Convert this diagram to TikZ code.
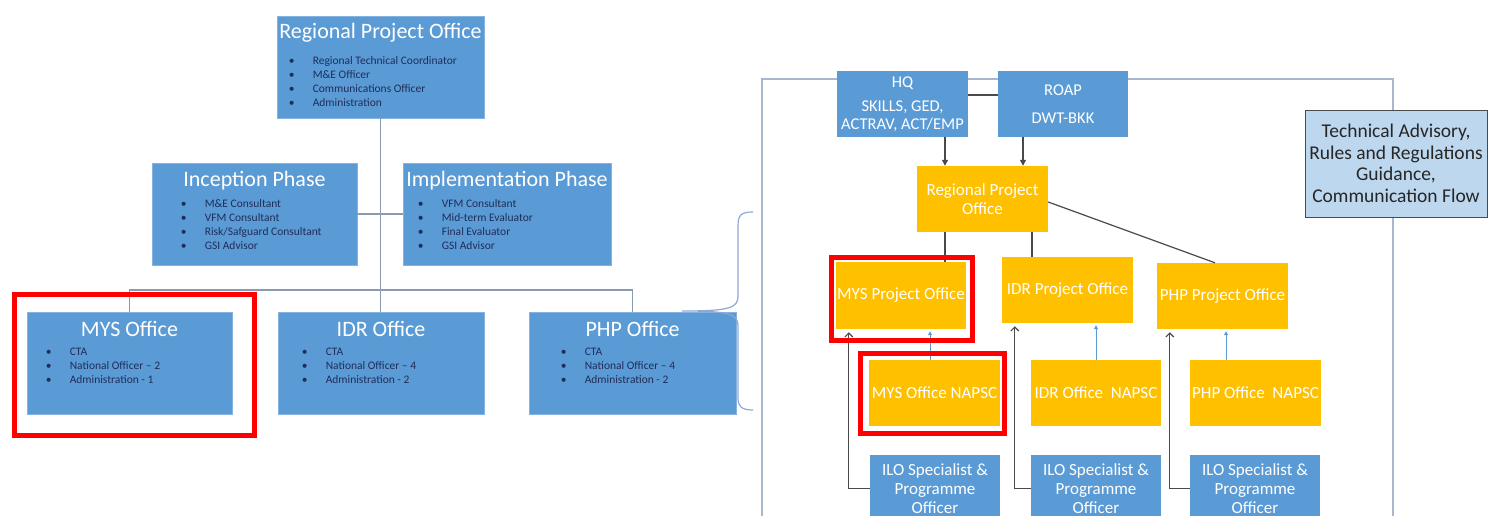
\documentclass[tikz,border=0pt]{standalone}
\usepackage{fontspec}
\setmainfont{Carlito}
\usetikzlibrary{calc,positioning,arrows.meta}
\definecolor{offblue}{HTML}{5B9BD5}
\definecolor{offedge}{HTML}{86B2DF}
\definecolor{navy}{HTML}{1F2D5A}
\definecolor{amber}{HTML}{FFC000}
\definecolor{paleblue}{HTML}{BDD7EE}
\definecolor{wire}{HTML}{8A9AB0}
\definecolor{darkline}{HTML}{4A4A4A}
\definecolor{framec}{HTML}{A8B8CC}
\definecolor{bracec}{HTML}{8FA6D8}
\definecolor{techtext}{HTML}{262626}
\newcommand{\blist}[1]{\begin{tabular}{@{}p{24pt}@{}l@{}}#1\end{tabular}}

\begin{document}
\begin{tikzpicture}[x=1pt, y=-1pt,
  offbox/.style={rectangle, draw=offedge, fill=offblue, line width=0.8pt,
                 minimum width=206, minimum height=102, inner sep=0pt},
  ttl/.style={text=white, font=\fontsize{22}{24}\selectfont, inner sep=0pt},
  lst/.style={text=navy, font=\fontsize{11.5}{14}\selectfont, inner sep=0pt, anchor=north west},
  ybox/.style={rectangle, fill=amber, text=white, minimum width=131, minimum height=66,
               align=center, inner sep=1pt, font=\fontsize{17}{19}\selectfont},
  bbox/.style={rectangle, fill=offblue, text=white, minimum width=131, minimum height=66,
               align=center, inner sep=1pt, font=\fontsize{16.5}{19}\selectfont},
  ilobox/.style={bbox, anchor=north, minimum width=130, font=\fontsize{17}{19}\selectfont},
  wirel/.style={draw=wire, line width=1.5pt},
  dkl/.style={draw=darkline, line width=1.2pt},
  arr/.style={dkl, -{Triangle[length=6pt, width=6pt]}},
  barb/.style={dkl, -{Straight Barb[length=4pt, width=8pt]}, shorten >=3pt},
  uparr/.style={draw=offblue, line width=1pt, -{Triangle[length=4pt, width=4pt]}, shorten >=2pt},
  hl/.style={draw=red, line width=5pt},
  framel/.style={draw=framec, line width=1.5pt},
  bracel/.style={draw=bracec, line width=1.2pt},
]
 \clip (0,0) rectangle (1491,516);

 % Project structure (left)
 \node[offbox, minimum width=207] (rpo) at (380.5,67) {};
 \node[offbox, minimum width=205] (incp) at (254.5,214) {};
 \node[offbox, minimum width=208] (impl) at (507,214) {};
 \node[offbox, minimum width=205] (mys) at (129.5,363) {};
 \node[offbox] (idr) at (381,363) {};
 \node[offbox, minimum width=207] (php) at (632.5,363) {};

 \coordinate (bus) at (381,290);
 \draw[wirel] (rpo.south) -- (rpo.south |- idr.north);
 \draw[wirel] (mys.north) |- (bus) -| (php.north);
 \draw[wirel] (incp.east) -- (impl.west);

 \node[ttl] (rpot) at ($(rpo.north)+(0,17)$) {Regional Project Office};
 \node[lst] (rpol) at ($(rpo.north west)+(12,39)$)
   {\blist{\textbullet & Regional Technical Coordinator\\
           \textbullet & M\&E Officer\\
           \textbullet & Communications Officer\\
           \textbullet & Administration\\}};

 \node[ttl] (incpt) at ($(incp.north)+(0,18)$) {Inception Phase};
 \node[lst] (incpl) at ($(incp.north west)+(29,35)$)
   {\blist{\textbullet & M\&E Consultant\\
           \textbullet & VFM Consultant\\
           \textbullet & Risk/Safguard Consultant\\
           \textbullet & GSI Advisor\\}};

 \node[ttl] (implt) at ($(impl.north)+(0,18)$) {Implementation Phase};
 \node[lst] (impll) at ($(impl.north west)+(15,35)$)
   {\blist{\textbullet & VFM Consultant\\
           \textbullet & Mid-term Evaluator\\
           \textbullet & Final Evaluator\\
           \textbullet & GSI Advisor\\}};

 \node[ttl] (myst) at ($(mys.north)+(0,17)$) {MYS Office};
 \node[lst] (mysl) at ($(mys.north west)+(19,34)$)
   {\blist{\textbullet & CTA\\
           \textbullet & National Officer – 2\\
           \textbullet & Administration - 1\\}};

 \node[ttl] (idrt) at ($(idr.north)+(0,17)$) {IDR Office};
 \node[lst] (idrl) at ($(idr.north west)+(24,34)$)
   {\blist{\textbullet & CTA\\
           \textbullet & National Officer – 4\\
           \textbullet & Administration - 2\\}};

 \node[ttl] (phpt) at ($(php.north)+(0,17)$) {PHP Office};
 \node[lst] (phpl) at ($(php.north west)+(32,34)$)
   {\blist{\textbullet & CTA\\
           \textbullet & National Officer – 4\\
           \textbullet & Administration - 2\\}};

 \draw[hl] ($(mys.north west)+(-12.5,-17.5)$) rectangle ($(mys.south east)+(22.5,21.5)$);

 % Brace and frame (right)
 \coordinate (bt) at (753,212);
 \coordinate (btip) at (682,311);
 \coordinate (bb) at (753,410);
 \draw[bracel] (bt) .. controls (741,212) and (738,215) .. (738,226) -- (738,296)
   .. controls (738,308) and (730,311) .. (btip)
   .. controls (730,311) and (738,314) .. (738,326) -- (738,398)
   .. controls (738,406) and (741,410) .. (bb);
 \draw[framel] (762,79) rectangle (1393,530);

 % Reporting lines (right)
 \node[bbox, font=\fontsize{16.5}{18}\selectfont] (hq) at (902.5,104) {HQ\\[6pt]SKILLS, GED,\\ACTRAV, ACT/EMP};
 \node[bbox, minimum width=130] (roap) at (1063,104) {ROAP\\[9pt]DWT-BKK};
 \node[ybox] (rpoy) at (982.5,199) {Regional Project\\Office};

 \node[ybox, minimum width=130, minimum height=67] (mysp) at (901,295.5) {MYS Project Office};
 \node[ybox] (idrp) at (1067.5,290) {IDR Project Office};
 \node[ybox] (phpp) at (1222.5,296) {PHP Project Office};

 \node[ybox] (mysn) at (934.5,393) {MYS Office NAPSC};
 \node[ybox, minimum width=130] (idrn) at (1096,393) {IDR Office~~NAPSC};
 \node[ybox] (phpn) at (1255.5,393) {PHP Office~~NAPSC};

 \node[ilobox] (ilom) at (935,455) {ILO Specialist \&\\Programme\\Officer};
 \node[ilobox] (iloi) at (1096,455) {ILO Specialist \&\\Programme\\Officer};
 \node[ilobox] (ilop) at (1255,455) {ILO Specialist \&\\Programme\\Officer};

 \node[draw=darkline, fill=paleblue, text=techtext, align=center, minimum width=182,
       minimum height=107, inner sep=1pt, font=\fontsize{19.5}{21.5}\selectfont] (tech)
   at (1396,163.5) {Technical Advisory,\\Rules and Regulations\\Guidance,\\Communication Flow};

 \coordinate (hr) at ($(hq.east)+(0,-9)$);
 \draw[dkl] (hr) -- (hr -| roap.west);
 \coordinate (hqa) at ($(hq.south)+(42.5,0)$);
 \coordinate (roa) at ($(roap.south)+(-40,0)$);
 \draw[arr] (hqa) -- (hqa |- rpoy.north);
 \draw[arr] (roa) -- (roa |- rpoy.north);

 \coordinate (ym) at ($(mysp.north)+(44,0)$);
 \coordinate (yi) at ($(idrp.north)+(-35.5,0)$);
 \coordinate (yp) at ($(phpp.north)+(-7.5,0)$);
 \draw[dkl] (rpoy.south -| ym) -- (ym);
 \draw[dkl] (rpoy.south -| yi) -- (yi);
 \draw[dkl] ($(rpoy.east)+(0,3)$) -- (yp);

 \coordinate (nm) at ($(mysn.north)+(-4.5,0)$);
 \coordinate (np) at ($(phpn.north)+(-29.5,0)$);
 \draw[uparr] (nm) -- (nm |- mysp.south);
 \draw[uparr] (idrn.north) -- (idrn.north |- idrp.south);
 \draw[uparr] (np) -- (np |- phpp.south);

 \coordinate (lm) at ($(mysp.south west)+(13,0)$);
 \coordinate (li) at ($(idrp.south west)+(13,0)$);
 \coordinate (lp) at ($(phpp.south west)+(13,0)$);
 \draw[barb] (ilom.west) -| (lm);
 \draw[barb] (iloi.west) -| (li);
 \draw[barb] (ilop.west) -| (lp);

 \draw[hl] ($(mysp.north west)+(-4.5,-4.5)$) rectangle ($(mysp.south east)+(6.5,11.5)$);
 \draw[hl] ($(mysn.north west)+(-8.5,-6.5)$) rectangle ($(mysn.south east)+(4.5,7.5)$);
\end{tikzpicture}
\end{document}
